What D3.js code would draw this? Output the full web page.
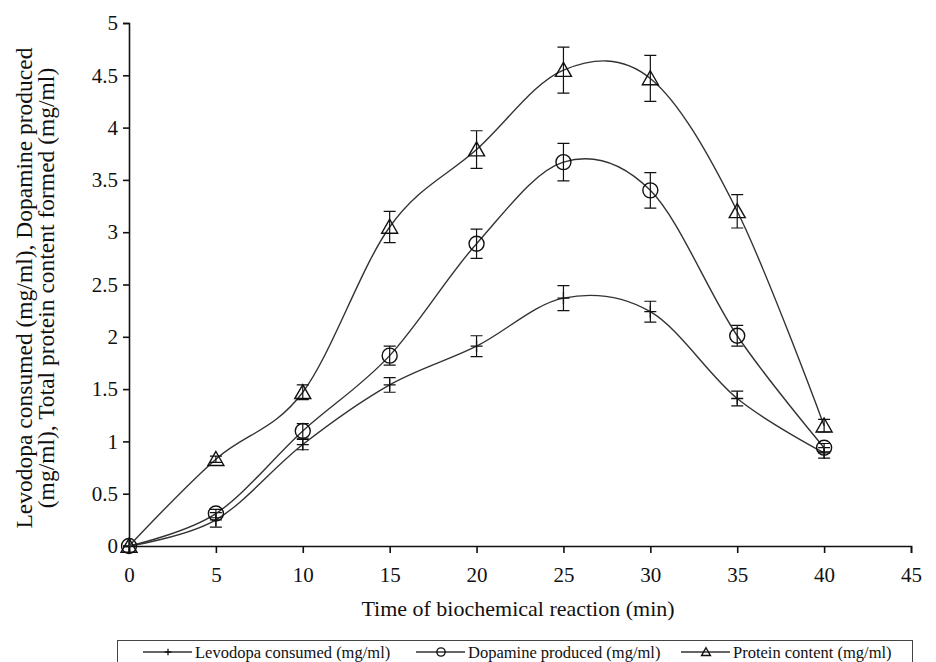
<!DOCTYPE html>
<html>
<head>
<meta charset="utf-8">
<script src="https://cdn.jsdelivr.net/npm/d3@7/dist/d3.min.js"></script>
<style>
  html, body { margin: 0; padding: 0; background: #fff; }
  svg { display: block; }
</style>
</head>
<body>
<svg id="chart" width="936" height="662"></svg>
<script>
// Sampling times (min)
const times = [0, 5, 10, 15, 20, 25, 30, 35, 40];

// Mean values (mg/ml)
const levodopa = [0, 0.25, 0.97, 1.54, 1.91, 2.37, 2.24, 1.41, 0.89];
const dopamine = [0, 0.31, 1.10, 1.82, 2.89, 3.67, 3.40, 2.01, 0.94];
const protein  = [0, 0.83, 1.47, 3.05, 3.79, 4.55, 4.47, 3.20, 1.15];

// Standard deviations (mg/ml)
const levodopaErr = [0, 0.07, 0.05, 0.07, 0.10, 0.12, 0.10, 0.07, 0.05];
const dopamineErr = [0, 0.04, 0.07, 0.09, 0.14, 0.18, 0.17, 0.10, 0.04];
const proteinErr  = [0, 0.03, 0.07, 0.15, 0.18, 0.22, 0.22, 0.16, 0.06];

const xTicks = [0, 5, 10, 15, 20, 25, 30, 35, 40, 45];
const yTicks = [0, 0.5, 1, 1.5, 2, 2.5, 3, 3.5, 4, 4.5, 5];

const seriesNames = ["Levodopa consumed (mg/ml)", "Dopamine produced (mg/ml)", "Protein content (mg/ml)"];
const xTitle = "Time of biochemical reaction (min)";
const yTitleLines = ["Levodopa consumed (mg/ml), Dopamine produced", "(mg/ml), Total protein content formed (mg/ml)"];

const serif = "Liberation Serif";
const svg = d3.select("#chart");
const ink = "#111";
const lineInk = "#333";

const x = d3.scaleLinear().domain([0, 45]).range([129, 911]);
const y = d3.scaleLinear().domain([0, 5]).range([546, 23]);

// Axes
const xAxis = svg.append("g")
  .attr("transform", `translate(0,${y(0)})`)
  .call(d3.axisBottom(x).tickValues(xTicks).tickFormat(d3.format("d")).tickSize(7).tickPadding(14));
const yAxis = svg.append("g")
  .attr("transform", `translate(${x(0)},0)`)
  .call(d3.axisLeft(y).tickValues(yTicks).tickFormat(d => String(d)).tickSize(6).tickPadding(5));

[xAxis, yAxis].forEach(g => {
  g.attr("font-family", serif);
  g.select(".domain").attr("stroke", ink).attr("stroke-width", 1.6);
  g.selectAll(".tick line").attr("stroke", ink).attr("stroke-width", 1.6);
  g.selectAll(".tick text").attr("fill", ink).attr("font-size", 21).attr("font-family", serif);
});

// Axis titles
svg.append("text")
  .attr("x", 518).attr("y", 616)
  .attr("text-anchor", "middle").attr("font-size", 22).attr("fill", ink)
  .attr("font-family", serif)
  .text(xTitle);

const yTitle = svg.append("text")
  .attr("transform", "translate(0,288) rotate(-90)")
  .attr("text-anchor", "middle").attr("font-size", 23.5).attr("fill", ink)
  .attr("font-family", serif);
yTitleLines.forEach((t, i) => {
  yTitle.append("tspan").attr("x", 0).attr("y", 32 + i * 22).text(t);
});

// Series
const series = [
  { name: seriesNames[0], values: levodopa, err: levodopaErr, marker: "plus" },
  { name: seriesNames[1], values: dopamine, err: dopamineErr, marker: "circle" },
  { name: seriesNames[2], values: protein,  err: proteinErr,  marker: "triangle" }
];

const line = d3.line()
  .x(d => x(d[0]))
  .y(d => y(d[1]))
  .curve(d3.curveCatmullRom.alpha(0));

function drawMarker(g, type, cx, cy, scale) {
  const s = scale || 1;
  if (type === "circle") {
    g.append("circle").attr("cx", cx).attr("cy", cy).attr("r", 7.5 * s)
      .attr("fill", "none").attr("stroke", ink).attr("stroke-width", 1.4);
  } else if (type === "triangle") {
    const w = 8 * s, h = 14 * s;
    g.append("path")
      .attr("d", `M${cx},${cy - h * 0.55}L${cx + w},${cy + h * 0.45}L${cx - w},${cy + h * 0.45}Z`)
      .attr("fill", "none").attr("stroke", ink).attr("stroke-width", 1.4);
  } else {
    g.append("path")
      .attr("d", `M${cx - 6 * s},${cy}H${cx + 6 * s}M${cx},${cy - 6 * s}V${cy + 6 * s}`)
      .attr("fill", "none").attr("stroke", ink).attr("stroke-width", 1.3);
  }
}

series.forEach(s => {
  const pts = times.map((t, i) => [t, s.values[i], s.err[i]]);
  const g = svg.append("g");
  g.append("path").datum(pts)
    .attr("d", line).attr("fill", "none")
    .attr("stroke", lineInk).attr("stroke-width", 1.4);

  // Error bars
  pts.filter(p => p[2] > 0).forEach(p => {
    const cx = x(p[0]), y1 = y(p[1] + p[2]), y2 = y(p[1] - p[2]);
    g.append("path")
      .attr("d", `M${cx},${y1}V${y2}M${cx - 6},${y1}H${cx + 6}M${cx - 6},${y2}H${cx + 6}`)
      .attr("fill", "none").attr("stroke", ink).attr("stroke-width", 1.2);
  });

  pts.forEach(p => drawMarker(g, s.marker, x(p[0]), y(p[1])));
});

// Legend
const legend = svg.append("g");
legend.append("rect")
  .attr("x", 117.5).attr("y", 640.5).attr("width", 795).attr("height", 40)
  .attr("fill", "#fff").attr("stroke", "#444").attr("stroke-width", 1);

const legendItems = [
  { x0: 143, name: seriesNames[0], marker: "plus" },
  { x0: 416, name: seriesNames[1], marker: "circle" },
  { x0: 681, name: seriesNames[2], marker: "triangle" }
];
legendItems.forEach((it, i) => {
  const ly = 652;
  legend.append("line")
    .attr("x1", it.x0).attr("x2", it.x0 + 49).attr("y1", ly).attr("y2", ly)
    .attr("stroke", lineInk).attr("stroke-width", 1.3);
  drawMarker(legend, series[i].marker, it.x0 + 25, ly, 0.55);
  legend.append("text")
    .attr("x", it.x0 + 52).attr("y", ly + 5.5)
    .attr("font-size", 16.5).attr("fill", ink)
    .attr("font-family", serif)
    .text(it.name);
});
</script>
</body>
</html>
